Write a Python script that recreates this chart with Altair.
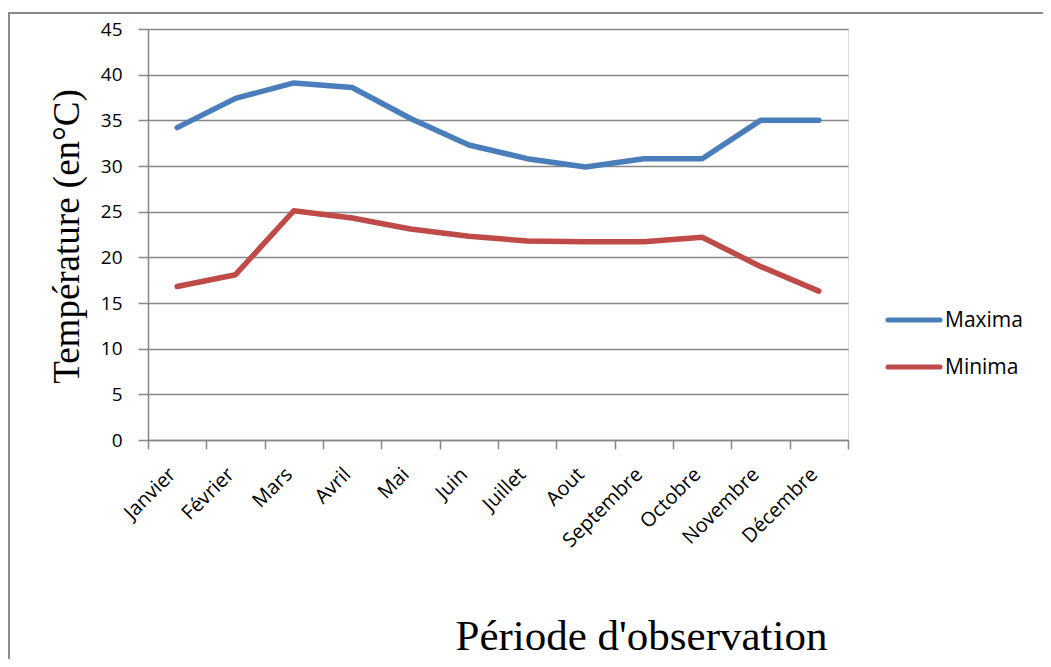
import altair as alt
import pandas as pd

months = ["Janvier", "Février", "Mars", "Avril", "Mai", "Juin", "Juillet",
          "Aout", "Septembre", "Octobre", "Novembre", "Décembre"]
maxima = [34.2, 37.4, 39.1, 38.6, 35.2, 32.3, 30.8, 29.9, 30.8, 30.8, 35.0, 35.0]
minima = [16.8, 18.1, 25.1, 24.3, 23.1, 22.3, 21.8, 21.7, 21.7, 22.2, 19.0, 16.3]
series = ["Maxima", "Minima"]
colors = ["#4A7EBB", "#BE4B48"]
legend_rows = [0, 1]

rows = []
for name, vals in zip(series, [maxima, minima]):
    for m, v in zip(months, vals):
        rows.append({"Mois": m, "Température": v, "Série": name})
df = pd.DataFrame(rows)

W, H = 700, 411
GRID = "#878787"

lines = alt.Chart(df).mark_line(strokeWidth=5.5, strokeCap="round", strokeJoin="round").encode(
    x=alt.X("Mois:N", sort=months, bandPosition=0.5,
            scale=alt.Scale(type="band", paddingInner=0, paddingOuter=0),
            axis=alt.Axis(title="Période d'observation", labelAngle=-45, tickBand="extent",
                          labelAlign="right", labelBaseline="middle", labelOffset=-5,
                          grid=False, domainColor=GRID, tickColor=GRID, tickSize=9,
                          domainWidth=1.5, tickWidth=1.5,
                          labelFont="Open Sans", labelFontSize=20, labelColor="#000",
                          labelPadding=22,
                          titleFont="Liberation Serif", titleFontSize=43, titleFontWeight="normal",
                          titleColor="#000", titlePadding=65, titleX=493, titleAnchor="middle")),
    y=alt.Y("Température:Q", scale=alt.Scale(domain=[0, 45], nice=False),
            axis=alt.Axis(title="Température (en°C)", values=list(range(0, 50, 5)),
                          grid=True, gridColor=GRID, gridWidth=1.5,
                          domainColor=GRID, tickColor=GRID, tickSize=10,
                          domainWidth=1.5, tickWidth=1.5,
                          labelFont="Open Sans", labelFontSize=19, labelColor="#000",
                          labelPadding=16,
                          titleFont="Liberation Serif", titleFontSize=37, titleFontWeight="normal",
                          titleColor="#000", titlePadding=14, titleY=207)),
    color=alt.Color("Série:N", scale=alt.Scale(domain=series, range=colors), legend=None),
)

leg = pd.DataFrame({"Série": series, "row": legend_rows})
leg_y = alt.Y("row:Q", scale=alt.Scale(domain=[0, 1], range=[291, 338]), axis=None)
legend_lines = alt.Chart(leg).mark_rule(strokeWidth=5, strokeCap="round").encode(
    x=alt.value(W + 40), x2=alt.value(W + 92),
    y=leg_y,
    color=alt.Color("Série:N", scale=alt.Scale(domain=series, range=colors), legend=None),
)
legend_text = alt.Chart(leg).mark_text(align="left", baseline="middle", font="Open Sans",
                                       fontSize=21, color="#000", dy=1).encode(
    x=alt.value(W + 97),
    y=leg_y,
    text="Série:N",
)

border = alt.Chart(pd.DataFrame({"a": [0]})).mark_rect(
    fill=None, stroke="#8a8a8a", strokeWidth=2).encode(
    x=alt.value(-139), x2=alt.value(W + 250), y=alt.value(-16), y2=alt.value(H + 300),
)

chart = alt.layer(border, lines, legend_lines, legend_text).resolve_scale(
    y="independent", color="shared"
).properties(
    width=W, height=H,
    autosize=alt.AutoSizeParams(type="none"),
    padding={"left": 140, "top": 21, "right": 195, "bottom": 219},
).configure_view(stroke=None).configure(background="white")

chart.save("out.html", embed_options={"renderer": "svg", "actions": False})
